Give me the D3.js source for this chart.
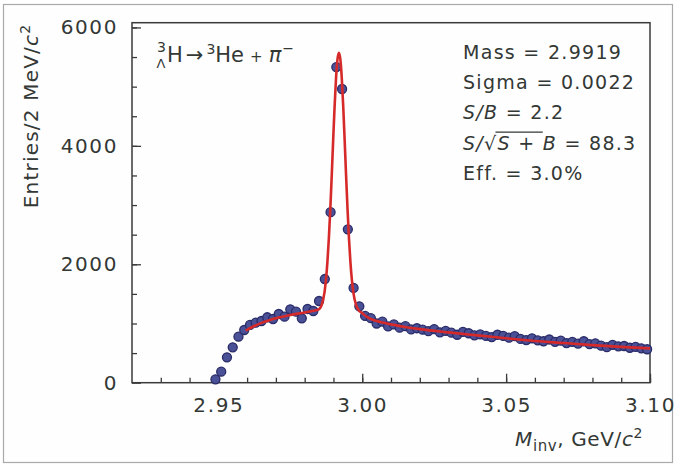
<!DOCTYPE html>
<html>
<head>
<meta charset="utf-8">
<script src="https://cdn.jsdelivr.net/npm/d3@7"></script>
<style>
  html, body { margin: 0; padding: 0; background: #fff; }
  svg text { font-family: "DejaVu Sans", sans-serif; fill: #333835; }
</style>
</head>
<body>
<div id="chart"></div>
<script>
// histogram: 2 MeV bins, centres from 2.949 GeV
var binStart = 2.949, binWidth = 0.002;
var entries = [
  57, 186, 429, 598, 777, 890, 975, 1013, 1042, 1105, 1076, 1160, 1115, 1240, 1200, 1088, 1245, 1211,
  1380, 1751, 2880, 5330, 4960, 2590, 1600, 1290,
  1127, 1090, 1000, 1030, 950, 985, 930, 955, 900, 920, 895, 870, 905, 850, 875, 845, 810, 860, 835, 800,
  815, 790, 770, 810, 790, 760, 785, 740, 720, 750, 715, 700, 730, 690, 710, 670, 690, 660, 700, 650,
  665, 625, 600, 640, 615, 620, 590, 605, 580, 565
];

// fitted curve
var fitMass = [2.9595, 2.962, 2.965, 2.968, 2.971, 2.975, 2.980, 2.983, 2.9849, 2.9859, 2.9869, 2.9874,
  2.9879, 2.9884, 2.9889, 2.9894, 2.9899, 2.9904, 2.9909, 2.9914, 2.9919, 2.9924, 2.9929, 2.9934, 2.9939,
  2.9944, 2.9949, 2.9954, 2.9959, 2.9964, 2.9969, 2.9979, 2.9989, 3.000, 3.0015, 3.003, 3.0045, 3.007,
  3.010, 3.015, 3.020, 3.030, 3.040, 3.050, 3.060, 3.070, 3.080, 3.090, 3.100];
var fitEntries = [880, 945, 1010, 1060, 1100, 1145, 1185, 1215, 1240, 1310, 1530, 1739,
  2037, 2433, 2924, 3491, 4091, 4664, 5141, 5459, 5570, 5459, 5141, 4664, 4091,
  3491, 2924, 2433, 2037, 1739, 1530, 1306, 1215, 1175, 1115, 1075, 1050, 1015,
  985, 940, 905, 850, 800, 750, 705, 670, 635, 605, 580];

var xMajorTicks = [2.95, 3.00, 3.05, 3.10];
var yMajorTicks = [0, 2000, 4000, 6000];

var W = 676, H = 465;
var margin = {left: 132, right: 26, top: 22.7, bottom: 82.3};

var svg = d3.select("#chart").append("svg")
  .attr("width", W)
  .attr("height", H);

svg.append("rect")
  .attr("x", 3.5).attr("y", 4.5)
  .attr("width", 669).attr("height", 458)
  .attr("fill", "#fefefe")
  .attr("stroke", "#a9a9a9")
  .attr("stroke-width", 1.2);

var x = d3.scaleLinear().domain([2.92, 3.10]).range([margin.left, W - margin.right]);
var y = d3.scaleLinear().domain([0, 6080]).range([H - margin.bottom, margin.top]);

var g = svg.append("g");

// minor ticks
var xMinor = d3.range(2.93, 3.1001, 0.01);
var yMinor = d3.range(500, 6001, 500);

g.append("g")
  .attr("transform", "translate(0," + y(0) + ")")
  .call(d3.axisBottom(x).tickValues(xMinor).tickSize(-5).tickFormat(""))
  .call(function(a) { a.select(".domain").remove(); });
g.append("g")
  .attr("transform", "translate(" + x.range()[0] + ",0)")
  .call(d3.axisLeft(y).tickValues(yMinor).tickSize(-5).tickFormat(""))
  .call(function(a) { a.select(".domain").remove(); });

// major ticks with labels
var xAxis = g.append("g")
  .attr("transform", "translate(0," + y(0) + ")")
  .call(d3.axisBottom(x).tickValues(xMajorTicks).tickSize(-9).tickPadding(15).tickFormat(d3.format(".2f")));
xAxis.select(".domain").remove();
xAxis.selectAll("text")
  .attr("font-size", 20).attr("letter-spacing", 1.6)
  .attr("font-family", "DejaVu Sans").attr("fill", "#333835");

var yAxis = g.append("g")
  .attr("transform", "translate(" + x.range()[0] + ",0)")
  .call(d3.axisLeft(y).tickValues(yMajorTicks).tickSize(-9).tickPadding(14).tickFormat(d3.format("d")));
yAxis.select(".domain").remove();
yAxis.selectAll("text")
  .attr("font-size", 20).attr("letter-spacing", 1.6)
  .attr("font-family", "DejaVu Sans").attr("fill", "#333835");

g.selectAll(".tick line").attr("stroke", "#3a3a3a").attr("stroke-width", 1.3);

// frame
g.append("rect")
  .attr("x", x.range()[0]).attr("y", y.range()[1])
  .attr("width", x.range()[1] - x.range()[0])
  .attr("height", y.range()[0] - y.range()[1])
  .attr("fill", "none")
  .attr("stroke", "#3a3a3a")
  .attr("stroke-width", 1.5);

// data points
g.selectAll("circle.pt")
  .data(entries)
  .enter().append("circle")
  .attr("class", "pt")
  .attr("cx", function(d, i) { return x(binStart + i * binWidth); })
  .attr("cy", function(d) { return y(d); })
  .attr("r", 4.5)
  .attr("fill", "#4a5196")
  .attr("stroke", "#2a2b68")
  .attr("stroke-width", 1.3);

// fit curve
var line = d3.line()
  .x(function(d, i) { return x(fitMass[i]); })
  .y(function(d) { return y(d); })
  .curve(d3.curveMonotoneX);

g.append("path")
  .datum(fitEntries)
  .attr("d", line)
  .attr("fill", "none")
  .attr("stroke", "#d62a2a")
  .attr("stroke-width", 2.6);

// decay annotation
svg.append("text").attr("x", 157).attr("y", 52).attr("font-size", 14).text("3");
svg.append("text").attr("x", 156.5).attr("y", 68).attr("font-size", 13).text("Λ");
var dec = svg.append("text").attr("x", 167).attr("y", 62).attr("font-size", 21);
dec.append("tspan").text("H");
dec.append("tspan").attr("dx", 3).text("→");
dec.append("tspan").attr("dx", 3).attr("dy", -8).attr("font-size", 14).text("3");
dec.append("tspan").attr("dy", 8).text("He");
dec.append("tspan").attr("dx", 6).attr("font-size", 15).text("+");
dec.append("tspan").attr("dx", 6).attr("font-style", "italic").text("π");
dec.append("tspan").attr("dx", 1).attr("dy", -9).attr("font-size", 14).text("−");

// fit summary
var sx = 463, sy0 = 58.5, sdy = 30.4;
var stat = svg.append("g");
stat.append("text").attr("x", sx).attr("y", sy0).attr("font-size", 19).attr("letter-spacing", 1.3).text("Mass = 2.9919");
stat.append("text").attr("x", sx).attr("y", sy0 + sdy).attr("font-size", 19).attr("letter-spacing", 1.3).text("Sigma = 0.0022");
var sb = stat.append("text").attr("x", sx).attr("y", sy0 + 2 * sdy).attr("font-size", 19).attr("letter-spacing", 1.3);
sb.append("tspan").attr("font-style", "italic").text("S/B");
sb.append("tspan").text(" = 2.2");
var sig = stat.append("text").attr("x", sx).attr("y", sy0 + 3 * sdy).attr("font-size", 19).attr("letter-spacing", 1.3);
sig.append("tspan").attr("font-style", "italic").text("S/");
sig.append("tspan").text("√");
sig.append("tspan").attr("font-style", "italic").text("S");
sig.append("tspan").text(" + ");
sig.append("tspan").attr("font-style", "italic").text("B");
sig.append("tspan").text(" = 88.3");
var sigNode = sig.node();
var ox1 = sx + sigNode.getSubStringLength(0, 3);
var ox2 = sx + sigNode.getSubStringLength(0, 7);
stat.append("line")
  .attr("x1", ox1 - 2).attr("x2", ox2)
  .attr("y1", sy0 + 3 * sdy - 17.5).attr("y2", sy0 + 3 * sdy - 17.5)
  .attr("stroke", "#333835").attr("stroke-width", 1.2);
stat.append("text").attr("x", sx).attr("y", sy0 + 4 * sdy).attr("font-size", 19).attr("letter-spacing", 1.3).text("Eff. = 3.0%");

// axis titles
var yt = svg.append("text")
  .attr("transform", "translate(38,116) rotate(-90)")
  .attr("text-anchor", "middle")
  .attr("font-size", 20).attr("letter-spacing", 1.2);
yt.append("tspan").text("Entries/2 MeV/");
yt.append("tspan").attr("font-style", "italic").text("c");
yt.append("tspan").attr("dy", -8).attr("font-size", 14).text("2");

var xt = svg.append("text")
  .attr("x", 643).attr("y", 446)
  .attr("text-anchor", "end")
  .attr("font-size", 20).attr("letter-spacing", 0.6);
xt.append("tspan").attr("font-style", "italic").text("M");
xt.append("tspan").attr("dy", 5).attr("font-size", 15).text("inv");
xt.append("tspan").attr("dy", -5).text(", GeV/");
xt.append("tspan").attr("font-style", "italic").text("c");
xt.append("tspan").attr("dy", -8).attr("font-size", 14).text("2");
</script>
</body>
</html>
